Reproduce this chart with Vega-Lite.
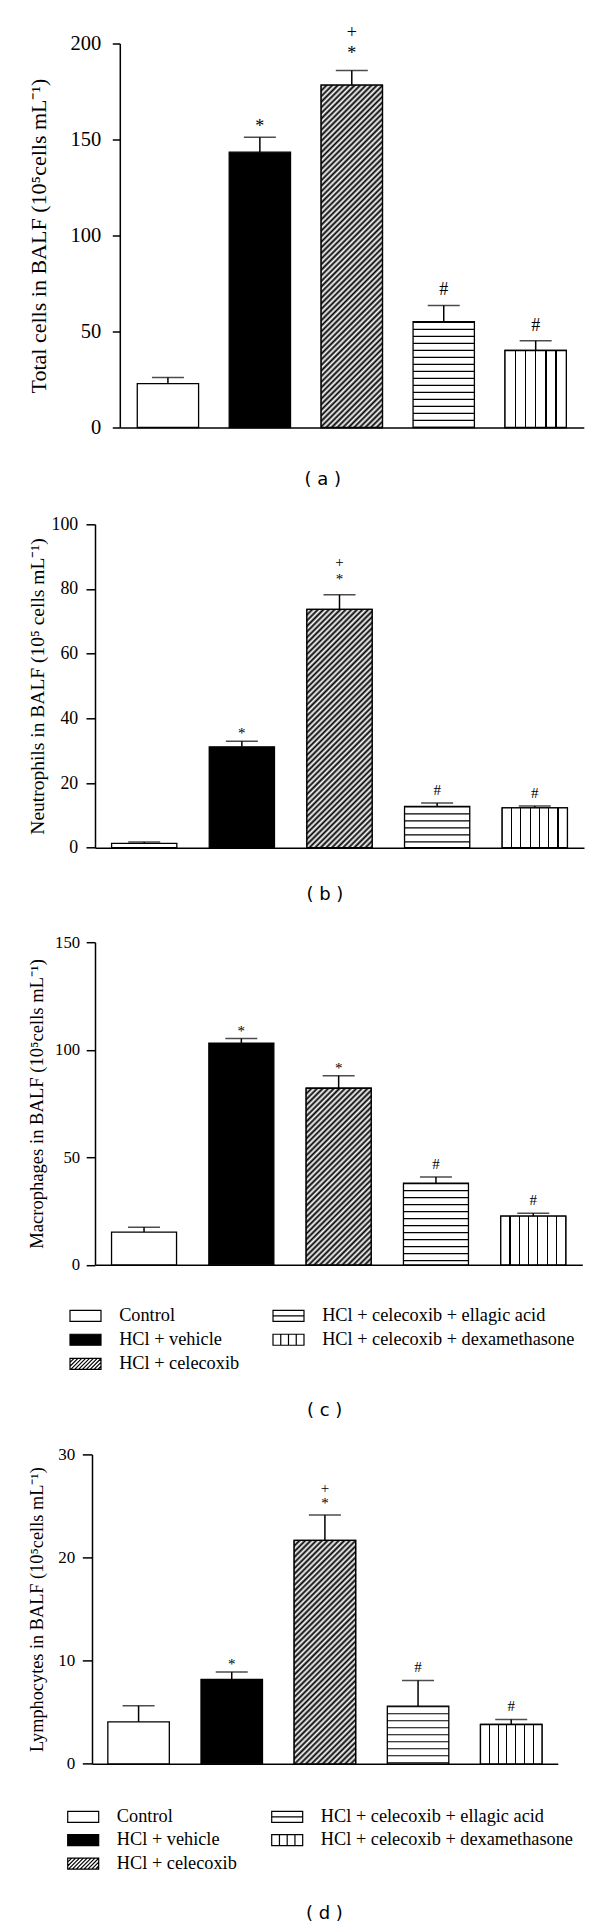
{
"$schema": "https://vega.github.io/schema/vega-lite/v6.json",
"padding": {"left": 27, "top": 23.5, "right": 5, "bottom": 0},
"config": {
 "view": {"stroke": null},
 "axis": {"grid": false, "domainColor": "#000", "tickColor": "#000", "labelColor": "#000", "titleColor": "#000", "labelFont": "Liberation Serif", "titleFont": "Liberation Serif", "titleFontWeight": "normal", "domainWidth": 1.5, "tickWidth": 1.5},
 "text": {"font": "Liberation Serif", "color": "#000", "fill": "#000", "baseline": "middle"},
 "title": {"font": "DejaVu Sans", "fontSize": 18, "fontWeight": "normal", "color": "#000", "orient": "bottom", "anchor": "middle", "frame": "group"},
 "legend": {"labelFont": "Liberation Serif", "labelColor": "#000", "labelLimit": 400, "symbolStrokeColor": "#000", "symbolStrokeWidth": 1.2, "padding": 0, "symbolOpacity": 1, "title": null}
},
"resolve": {"scale": {"fill": "independent", "shape": "independent"}, "legend": {"fill": "independent", "shape": "independent"}},
"datasets": {
 "a": [
  {"group": "Control", "value": 22.8, "err": 26.1, "sig": ""},
  {"group": "HCl + vehicle", "value": 143.4, "err": 151.2, "sig": "*"},
  {"group": "HCl + celecoxib", "value": 178.3, "err": 185.9, "sig": "+*"},
  {"group": "HCl + celecoxib + ellagic acid", "value": 55.1, "err": 63.6, "sig": "#"},
  {"group": "HCl + celecoxib + dexamethasone", "value": 40.1, "err": 45.2, "sig": "#"}
 ],
 "b": [
  {"group": "Control", "value": 1.34, "err": 1.75, "sig": ""},
  {"group": "HCl + vehicle", "value": 31.2, "err": 32.9, "sig": "*"},
  {"group": "HCl + celecoxib", "value": 73.7, "err": 78.2, "sig": "+*"},
  {"group": "HCl + celecoxib + ellagic acid", "value": 12.8, "err": 13.8, "sig": "#"},
  {"group": "HCl + celecoxib + dexamethasone", "value": 12.3, "err": 12.9, "sig": "#"}
 ],
 "c": [
  {"group": "Control", "value": 15.2, "err": 17.5, "sig": ""},
  {"group": "HCl + vehicle", "value": 103.1, "err": 105.2, "sig": "*"},
  {"group": "HCl + celecoxib", "value": 82.1, "err": 87.9, "sig": "*"},
  {"group": "HCl + celecoxib + ellagic acid", "value": 38.0, "err": 40.8, "sig": "#"},
  {"group": "HCl + celecoxib + dexamethasone", "value": 22.6, "err": 24.0, "sig": "#"}
 ],
 "d": [
  {"group": "Control", "value": 4.07, "err": 5.63, "sig": ""},
  {"group": "HCl + vehicle", "value": 8.18, "err": 8.89, "sig": "*"},
  {"group": "HCl + celecoxib", "value": 21.66, "err": 24.12, "sig": "+*"},
  {"group": "HCl + celecoxib + ellagic acid", "value": 5.59, "err": 8.08, "sig": "#"},
  {"group": "HCl + celecoxib + dexamethasone", "value": 3.81, "err": 4.30, "sig": "#"}
 ]
},
"concat": [
 {"concat": [
  {
   "data": {"name": "a"},
   "width": 488.8, "height": 384,
   "title": {"text": "( a )", "offset": 12.8, "dx": -16.6},
   "encoding": {"x": {"field": "group", "type": "nominal", "scale": {"domain": ["Control", "HCl + vehicle", "HCl + celecoxib", "HCl + celecoxib + ellagic acid", "HCl + celecoxib + dexamethasone"], "range": [24.8, 488.8], "paddingInner": 0.333, "paddingOuter": 0.19}, "axis": {"title": null, "labels": false, "ticks": false}}},
   "layer": [
    {"mark": {"type": "bar", "stroke": "#000", "strokeWidth": 1.3},
     "encoding": {"y": {"field": "value", "type": "quantitative", "scale": {"domain": [0, 200], "nice": false}, "axis": {"title": "Total cells in BALF (10⁵cells mL⁻¹)", "values": [0, 50, 100, 150, 200], "offset": -24.8, "labelFontSize": 20.5, "titleFontSize": 22, "tickSize": 7.5, "labelPadding": 11.5, "titlePadding": 20}},
      "fill": {"condition": {"test": "datum.group === 'HCl + vehicle'", "value": "#000"}, "value": "#fff"}}},
    {"transform": [{"filter": "datum.group === 'HCl + celecoxib'"}],
     "mark": {"type": "bar", "stroke": "#000", "strokeWidth": 1.3, "fill": {"gradient": "linear", "x1": 0, "y1": 0, "x2": 0.213, "y2": 1.1889, "stops": [
{"offset":0,"color":"#000"},{"offset":0.007,"color":"#fff"},{"offset":0.013,"color":"#000"},{"offset":0.02,"color":"#fff"},{"offset":0.027,"color":"#000"},{"offset":0.033,"color":"#fff"},{"offset":0.04,"color":"#000"},{"offset":0.047,"color":"#fff"},{"offset":0.053,"color":"#000"},{"offset":0.06,"color":"#fff"},{"offset":0.067,"color":"#000"},{"offset":0.073,"color":"#fff"},{"offset":0.08,"color":"#000"},{"offset":0.087,"color":"#fff"},{"offset":0.093,"color":"#000"},{"offset":0.1,"color":"#fff"},{"offset":0.107,"color":"#000"},{"offset":0.113,"color":"#fff"},{"offset":0.12,"color":"#000"},{"offset":0.127,"color":"#fff"},{"offset":0.133,"color":"#000"},{"offset":0.14,"color":"#fff"},{"offset":0.147,"color":"#000"},{"offset":0.153,"color":"#fff"},{"offset":0.16,"color":"#000"},{"offset":0.167,"color":"#fff"},{"offset":0.173,"color":"#000"},{"offset":0.18,"color":"#fff"},{"offset":0.187,"color":"#000"},{"offset":0.193,"color":"#fff"},
{"offset":0.2,"color":"#000"},{"offset":0.207,"color":"#fff"},{"offset":0.213,"color":"#000"},{"offset":0.22,"color":"#fff"},{"offset":0.227,"color":"#000"},{"offset":0.233,"color":"#fff"},{"offset":0.24,"color":"#000"},{"offset":0.247,"color":"#fff"},{"offset":0.253,"color":"#000"},{"offset":0.26,"color":"#fff"},{"offset":0.267,"color":"#000"},{"offset":0.273,"color":"#fff"},{"offset":0.28,"color":"#000"},{"offset":0.287,"color":"#fff"},{"offset":0.293,"color":"#000"},{"offset":0.3,"color":"#fff"},{"offset":0.307,"color":"#000"},{"offset":0.313,"color":"#fff"},{"offset":0.32,"color":"#000"},{"offset":0.327,"color":"#fff"},{"offset":0.333,"color":"#000"},{"offset":0.34,"color":"#fff"},{"offset":0.347,"color":"#000"},{"offset":0.353,"color":"#fff"},{"offset":0.36,"color":"#000"},{"offset":0.367,"color":"#fff"},{"offset":0.373,"color":"#000"},{"offset":0.38,"color":"#fff"},{"offset":0.387,"color":"#000"},{"offset":0.393,"color":"#fff"},
{"offset":0.4,"color":"#000"},{"offset":0.407,"color":"#fff"},{"offset":0.413,"color":"#000"},{"offset":0.42,"color":"#fff"},{"offset":0.427,"color":"#000"},{"offset":0.433,"color":"#fff"},{"offset":0.44,"color":"#000"},{"offset":0.447,"color":"#fff"},{"offset":0.453,"color":"#000"},{"offset":0.46,"color":"#fff"},{"offset":0.467,"color":"#000"},{"offset":0.473,"color":"#fff"},{"offset":0.48,"color":"#000"},{"offset":0.487,"color":"#fff"},{"offset":0.493,"color":"#000"},{"offset":0.5,"color":"#fff"},{"offset":0.507,"color":"#000"},{"offset":0.513,"color":"#fff"},{"offset":0.52,"color":"#000"},{"offset":0.527,"color":"#fff"},{"offset":0.533,"color":"#000"},{"offset":0.54,"color":"#fff"},{"offset":0.547,"color":"#000"},{"offset":0.553,"color":"#fff"},{"offset":0.56,"color":"#000"},{"offset":0.567,"color":"#fff"},{"offset":0.573,"color":"#000"},{"offset":0.58,"color":"#fff"},{"offset":0.587,"color":"#000"},{"offset":0.593,"color":"#fff"},
{"offset":0.6,"color":"#000"},{"offset":0.607,"color":"#fff"},{"offset":0.613,"color":"#000"},{"offset":0.62,"color":"#fff"},{"offset":0.627,"color":"#000"},{"offset":0.633,"color":"#fff"},{"offset":0.64,"color":"#000"},{"offset":0.647,"color":"#fff"},{"offset":0.653,"color":"#000"},{"offset":0.66,"color":"#fff"},{"offset":0.667,"color":"#000"},{"offset":0.673,"color":"#fff"},{"offset":0.68,"color":"#000"},{"offset":0.687,"color":"#fff"},{"offset":0.693,"color":"#000"},{"offset":0.7,"color":"#fff"},{"offset":0.707,"color":"#000"},{"offset":0.713,"color":"#fff"},{"offset":0.72,"color":"#000"},{"offset":0.727,"color":"#fff"},{"offset":0.733,"color":"#000"},{"offset":0.74,"color":"#fff"},{"offset":0.747,"color":"#000"},{"offset":0.753,"color":"#fff"},{"offset":0.76,"color":"#000"},{"offset":0.767,"color":"#fff"},{"offset":0.773,"color":"#000"},{"offset":0.78,"color":"#fff"},{"offset":0.787,"color":"#000"},{"offset":0.793,"color":"#fff"},
{"offset":0.8,"color":"#000"},{"offset":0.807,"color":"#fff"},{"offset":0.813,"color":"#000"},{"offset":0.82,"color":"#fff"},{"offset":0.827,"color":"#000"},{"offset":0.833,"color":"#fff"},{"offset":0.84,"color":"#000"},{"offset":0.847,"color":"#fff"},{"offset":0.853,"color":"#000"},{"offset":0.86,"color":"#fff"},{"offset":0.867,"color":"#000"},{"offset":0.873,"color":"#fff"},{"offset":0.88,"color":"#000"},{"offset":0.887,"color":"#fff"},{"offset":0.893,"color":"#000"},{"offset":0.9,"color":"#fff"},{"offset":0.907,"color":"#000"},{"offset":0.913,"color":"#fff"},{"offset":0.92,"color":"#000"},{"offset":0.927,"color":"#fff"},{"offset":0.933,"color":"#000"},{"offset":0.94,"color":"#fff"},{"offset":0.947,"color":"#000"},{"offset":0.953,"color":"#fff"},{"offset":0.96,"color":"#000"},{"offset":0.967,"color":"#fff"},{"offset":0.973,"color":"#000"},{"offset":0.98,"color":"#fff"},{"offset":0.987,"color":"#000"},{"offset":0.993,"color":"#fff"},{"offset":1,"color":"#000"}]}},
     "encoding": {"y": {"field": "value", "type": "quantitative"}}},
    {"transform": [{"filter": "datum.group === 'HCl + celecoxib + dexamethasone'"}],
     "mark": {"type": "bar", "stroke": "#000", "strokeWidth": 1.3, "fill": {"gradient": "linear", "x1": 0, "y1": 0, "x2": 1, "y2": 0, "stops": [{"offset":0,"color":"#fff"},{"offset":0.157,"color":"#fff"},{"offset":0.157,"color":"#000"},{"offset":0.177,"color":"#000"},{"offset":0.177,"color":"#fff"},{"offset":0.323,"color":"#fff"},{"offset":0.323,"color":"#000"},{"offset":0.343,"color":"#000"},{"offset":0.343,"color":"#fff"},{"offset":0.49,"color":"#fff"},{"offset":0.49,"color":"#000"},{"offset":0.51,"color":"#000"},{"offset":0.51,"color":"#fff"},{"offset":0.657,"color":"#fff"},{"offset":0.657,"color":"#000"},{"offset":0.677,"color":"#000"},{"offset":0.677,"color":"#fff"},{"offset":0.823,"color":"#fff"},{"offset":0.823,"color":"#000"},{"offset":0.843,"color":"#000"},{"offset":0.843,"color":"#fff"},{"offset":1,"color":"#fff"}]}},
     "encoding": {"y": {"field": "value", "type": "quantitative"}}},
    {"transform": [{"filter": "datum.group === 'HCl + celecoxib + ellagic acid'"}],
     "mark": {"type": "rule", "stroke": "#000", "strokeWidth": 61.3, "strokeDash": [1.2, 5.8], "strokeCap": "butt"},
     "encoding": {"y": {"field": "value", "type": "quantitative"}, "y2": {"datum": 0}}},
    {"mark": {"type": "rule", "stroke": "#000", "strokeWidth": 1.5},
     "encoding": {"y": {"field": "value", "type": "quantitative"}, "y2": {"field": "err"}}},
    {"mark": {"type": "tick", "color": "#000", "size": 32, "thickness": 1.5},
     "encoding": {"y": {"field": "err", "type": "quantitative"}}},
    {"transform": [{"filter": "datum.sig === '*'"}], "mark": {"type": "text", "text": "*", "fontSize": 18, "dy": -10, "fill": "#000"}, "encoding": {"y": {"field": "err", "type": "quantitative"}}},
    {"transform": [{"filter": "datum.sig === '+*'"}], "mark": {"type": "text", "text": "*", "fontSize": 18, "dy": -16.5, "fill": "#000"}, "encoding": {"y": {"field": "err", "type": "quantitative"}}},
    {"transform": [{"filter": "datum.sig === '+*'"}], "mark": {"type": "text", "text": "+", "fontSize": 18, "dy": -37.5, "fill": "#000"}, "encoding": {"y": {"field": "err", "type": "quantitative"}}},
    {"transform": [{"filter": "datum.sig === '#'"}], "mark": {"type": "text", "text": "#", "fontSize": 18, "dy": -15, "fill": "#000"}, "encoding": {"y": {"field": "err", "type": "quantitative"}}}
   ]
  },
  {
   "data": {"name": "b"},
   "width": 489, "height": 323.4,
   "title": {"text": "( b )", "offset": 5.2, "dx": -14.6},
   "encoding": {"x": {"field": "group", "type": "nominal", "scale": {"domain": ["Control", "HCl + vehicle", "HCl + celecoxib", "HCl + celecoxib + ellagic acid", "HCl + celecoxib + dexamethasone"], "paddingInner": 0.332, "paddingOuter": 0.17}, "axis": {"title": null, "labels": false, "ticks": false}}},
   "layer": [
    {"mark": {"type": "bar", "stroke": "#000", "strokeWidth": 1.3},
     "encoding": {"y": {"field": "value", "type": "quantitative", "scale": {"domain": [0, 100], "nice": false}, "axis": {"title": "Neutrophils in BALF (10⁵ cells mL⁻¹)", "values": [0, 20, 40, 60, 80, 100], "labelFontSize": 17.8, "titleFontSize": 19.5, "tickSize": 9, "labelPadding": 8.3, "titlePadding": 3.5}},
      "fill": {"condition": {"test": "datum.group === 'HCl + vehicle'", "value": "#000"}, "value": "#fff"}}},
    {"transform": [{"filter": "datum.group === 'HCl + celecoxib'"}],
     "mark": {"type": "bar", "stroke": "#000", "strokeWidth": 1.3, "fill": {"gradient": "linear", "x1": 0, "y1": 0, "x2": 0.4488, "y2": 1.6396, "stops": [
{"offset":0,"color":"#000"},{"offset":0.007,"color":"#fff"},{"offset":0.013,"color":"#000"},{"offset":0.02,"color":"#fff"},{"offset":0.027,"color":"#000"},{"offset":0.033,"color":"#fff"},{"offset":0.04,"color":"#000"},{"offset":0.047,"color":"#fff"},{"offset":0.053,"color":"#000"},{"offset":0.06,"color":"#fff"},{"offset":0.067,"color":"#000"},{"offset":0.073,"color":"#fff"},{"offset":0.08,"color":"#000"},{"offset":0.087,"color":"#fff"},{"offset":0.093,"color":"#000"},{"offset":0.1,"color":"#fff"},{"offset":0.107,"color":"#000"},{"offset":0.113,"color":"#fff"},{"offset":0.12,"color":"#000"},{"offset":0.127,"color":"#fff"},{"offset":0.133,"color":"#000"},{"offset":0.14,"color":"#fff"},{"offset":0.147,"color":"#000"},{"offset":0.153,"color":"#fff"},{"offset":0.16,"color":"#000"},{"offset":0.167,"color":"#fff"},{"offset":0.173,"color":"#000"},{"offset":0.18,"color":"#fff"},{"offset":0.187,"color":"#000"},{"offset":0.193,"color":"#fff"},
{"offset":0.2,"color":"#000"},{"offset":0.207,"color":"#fff"},{"offset":0.213,"color":"#000"},{"offset":0.22,"color":"#fff"},{"offset":0.227,"color":"#000"},{"offset":0.233,"color":"#fff"},{"offset":0.24,"color":"#000"},{"offset":0.247,"color":"#fff"},{"offset":0.253,"color":"#000"},{"offset":0.26,"color":"#fff"},{"offset":0.267,"color":"#000"},{"offset":0.273,"color":"#fff"},{"offset":0.28,"color":"#000"},{"offset":0.287,"color":"#fff"},{"offset":0.293,"color":"#000"},{"offset":0.3,"color":"#fff"},{"offset":0.307,"color":"#000"},{"offset":0.313,"color":"#fff"},{"offset":0.32,"color":"#000"},{"offset":0.327,"color":"#fff"},{"offset":0.333,"color":"#000"},{"offset":0.34,"color":"#fff"},{"offset":0.347,"color":"#000"},{"offset":0.353,"color":"#fff"},{"offset":0.36,"color":"#000"},{"offset":0.367,"color":"#fff"},{"offset":0.373,"color":"#000"},{"offset":0.38,"color":"#fff"},{"offset":0.387,"color":"#000"},{"offset":0.393,"color":"#fff"},
{"offset":0.4,"color":"#000"},{"offset":0.407,"color":"#fff"},{"offset":0.413,"color":"#000"},{"offset":0.42,"color":"#fff"},{"offset":0.427,"color":"#000"},{"offset":0.433,"color":"#fff"},{"offset":0.44,"color":"#000"},{"offset":0.447,"color":"#fff"},{"offset":0.453,"color":"#000"},{"offset":0.46,"color":"#fff"},{"offset":0.467,"color":"#000"},{"offset":0.473,"color":"#fff"},{"offset":0.48,"color":"#000"},{"offset":0.487,"color":"#fff"},{"offset":0.493,"color":"#000"},{"offset":0.5,"color":"#fff"},{"offset":0.507,"color":"#000"},{"offset":0.513,"color":"#fff"},{"offset":0.52,"color":"#000"},{"offset":0.527,"color":"#fff"},{"offset":0.533,"color":"#000"},{"offset":0.54,"color":"#fff"},{"offset":0.547,"color":"#000"},{"offset":0.553,"color":"#fff"},{"offset":0.56,"color":"#000"},{"offset":0.567,"color":"#fff"},{"offset":0.573,"color":"#000"},{"offset":0.58,"color":"#fff"},{"offset":0.587,"color":"#000"},{"offset":0.593,"color":"#fff"},
{"offset":0.6,"color":"#000"},{"offset":0.607,"color":"#fff"},{"offset":0.613,"color":"#000"},{"offset":0.62,"color":"#fff"},{"offset":0.627,"color":"#000"},{"offset":0.633,"color":"#fff"},{"offset":0.64,"color":"#000"},{"offset":0.647,"color":"#fff"},{"offset":0.653,"color":"#000"},{"offset":0.66,"color":"#fff"},{"offset":0.667,"color":"#000"},{"offset":0.673,"color":"#fff"},{"offset":0.68,"color":"#000"},{"offset":0.687,"color":"#fff"},{"offset":0.693,"color":"#000"},{"offset":0.7,"color":"#fff"},{"offset":0.707,"color":"#000"},{"offset":0.713,"color":"#fff"},{"offset":0.72,"color":"#000"},{"offset":0.727,"color":"#fff"},{"offset":0.733,"color":"#000"}]}},
     "encoding": {"y": {"field": "value", "type": "quantitative"}}},
    {"transform": [{"filter": "datum.group === 'HCl + celecoxib + dexamethasone'"}],
     "mark": {"type": "bar", "stroke": "#000", "strokeWidth": 1.3, "fill": {"gradient": "linear", "x1": 0, "y1": 0, "x2": 1, "y2": 0, "stops": [{"offset":0,"color":"#fff"},{"offset":0.134,"color":"#fff"},{"offset":0.134,"color":"#000"},{"offset":0.152,"color":"#000"},{"offset":0.152,"color":"#fff"},{"offset":0.277,"color":"#fff"},{"offset":0.277,"color":"#000"},{"offset":0.295,"color":"#000"},{"offset":0.295,"color":"#fff"},{"offset":0.42,"color":"#fff"},{"offset":0.42,"color":"#000"},{"offset":0.438,"color":"#000"},{"offset":0.438,"color":"#fff"},{"offset":0.562,"color":"#fff"},{"offset":0.562,"color":"#000"},{"offset":0.58,"color":"#000"},{"offset":0.58,"color":"#fff"},{"offset":0.705,"color":"#fff"},{"offset":0.705,"color":"#000"},{"offset":0.723,"color":"#000"},{"offset":0.723,"color":"#fff"},{"offset":0.848,"color":"#fff"},{"offset":0.848,"color":"#000"},{"offset":0.866,"color":"#000"},{"offset":0.866,"color":"#fff"},{"offset":1,"color":"#fff"}]}},
     "encoding": {"y": {"field": "value", "type": "quantitative"}}},
    {"transform": [{"filter": "datum.group === 'HCl + celecoxib + ellagic acid'"}],
     "mark": {"type": "rule", "stroke": "#000", "strokeWidth": 65.2, "strokeDash": [1.2, 5.8], "strokeCap": "butt"},
     "encoding": {"y": {"field": "value", "type": "quantitative"}, "y2": {"datum": 0}}},
    {"mark": {"type": "rule", "stroke": "#000", "strokeWidth": 1.5},
     "encoding": {"y": {"field": "value", "type": "quantitative"}, "y2": {"field": "err"}}},
    {"mark": {"type": "tick", "color": "#000", "size": 32, "thickness": 1.5},
     "encoding": {"y": {"field": "err", "type": "quantitative"}}},
    {"transform": [{"filter": "datum.sig === '*'"}], "mark": {"type": "text", "text": "*", "fontSize": 15, "dy": -8, "fill": "#000"}, "encoding": {"y": {"field": "err", "type": "quantitative"}}},
    {"transform": [{"filter": "datum.sig === '+*'"}], "mark": {"type": "text", "text": "*", "fontSize": 15, "dy": -16, "fill": "#000"}, "encoding": {"y": {"field": "err", "type": "quantitative"}}},
    {"transform": [{"filter": "datum.sig === '+*'"}], "mark": {"type": "text", "text": "+", "fontSize": 15, "dy": -33, "fill": "#000"}, "encoding": {"y": {"field": "err", "type": "quantitative"}}},
    {"transform": [{"filter": "datum.sig === '#'"}], "mark": {"type": "text", "text": "#", "fontSize": 15, "dy": -13, "fill": "#000"}, "encoding": {"y": {"field": "err", "type": "quantitative"}}}
   ]
  }
 ], "columns": 1, "align": "none", "spacing": 25.8,
 "resolve": {"scale": {"fill": "independent", "shape": "independent"}, "legend": {"fill": "independent", "shape": "independent"}}},
 {"concat": [
  {
   "data": {"name": "c"},
   "width": 487.3, "height": 322.6,
   "title": {"text": "( c )", "offset": 29, "dx": -14},
   "encoding": {"x": {"field": "group", "type": "nominal", "scale": {"domain": ["Control", "HCl + vehicle", "HCl + celecoxib", "HCl + celecoxib + ellagic acid", "HCl + celecoxib + dexamethasone"], "paddingInner": 0.332, "paddingOuter": 0.17}, "axis": {"title": null, "labels": false, "ticks": false}}},
   "layer": [
    {"mark": {"type": "bar", "stroke": "#000", "strokeWidth": 1.3},
     "encoding": {"y": {"field": "value", "type": "quantitative", "scale": {"domain": [0, 150], "nice": false}, "axis": {"title": "Macrophages in BALF (10⁵cells mL⁻¹)", "values": [0, 50, 100, 150], "labelFontSize": 16.7, "titleFontSize": 18.6, "tickSize": 8.8, "labelPadding": 6.6, "titlePadding": 8}},
      "fill": {"condition": {"test": "datum.group === 'HCl + vehicle'", "value": "#000"}, "value": "#fff"}}},
    {"transform": [{"filter": "datum.group === 'HCl + celecoxib'"}],
     "mark": {"type": "bar", "stroke": "#000", "strokeWidth": 1.3, "fill": {"gradient": "linear", "x1": 0, "y1": 0, "x2": 0.7708, "y2": 2.0951, "stops": [
{"offset":0,"color":"#000"},{"offset":0.007,"color":"#fff"},{"offset":0.013,"color":"#000"},{"offset":0.02,"color":"#fff"},{"offset":0.027,"color":"#000"},{"offset":0.033,"color":"#fff"},{"offset":0.04,"color":"#000"},{"offset":0.047,"color":"#fff"},{"offset":0.053,"color":"#000"},{"offset":0.06,"color":"#fff"},{"offset":0.067,"color":"#000"},{"offset":0.073,"color":"#fff"},{"offset":0.08,"color":"#000"},{"offset":0.087,"color":"#fff"},{"offset":0.093,"color":"#000"},{"offset":0.1,"color":"#fff"},{"offset":0.107,"color":"#000"},{"offset":0.113,"color":"#fff"},{"offset":0.12,"color":"#000"},{"offset":0.127,"color":"#fff"},{"offset":0.133,"color":"#000"},{"offset":0.14,"color":"#fff"},{"offset":0.147,"color":"#000"},{"offset":0.153,"color":"#fff"},{"offset":0.16,"color":"#000"},{"offset":0.167,"color":"#fff"},{"offset":0.173,"color":"#000"},{"offset":0.18,"color":"#fff"},{"offset":0.187,"color":"#000"},{"offset":0.193,"color":"#fff"},
{"offset":0.2,"color":"#000"},{"offset":0.207,"color":"#fff"},{"offset":0.213,"color":"#000"},{"offset":0.22,"color":"#fff"},{"offset":0.227,"color":"#000"},{"offset":0.233,"color":"#fff"},{"offset":0.24,"color":"#000"},{"offset":0.247,"color":"#fff"},{"offset":0.253,"color":"#000"},{"offset":0.26,"color":"#fff"},{"offset":0.267,"color":"#000"},{"offset":0.273,"color":"#fff"},{"offset":0.28,"color":"#000"},{"offset":0.287,"color":"#fff"},{"offset":0.293,"color":"#000"},{"offset":0.3,"color":"#fff"},{"offset":0.307,"color":"#000"},{"offset":0.313,"color":"#fff"},{"offset":0.32,"color":"#000"},{"offset":0.327,"color":"#fff"},{"offset":0.333,"color":"#000"},{"offset":0.34,"color":"#fff"},{"offset":0.347,"color":"#000"},{"offset":0.353,"color":"#fff"},{"offset":0.36,"color":"#000"},{"offset":0.367,"color":"#fff"},{"offset":0.373,"color":"#000"},{"offset":0.38,"color":"#fff"},{"offset":0.387,"color":"#000"},{"offset":0.393,"color":"#fff"},
{"offset":0.4,"color":"#000"},{"offset":0.407,"color":"#fff"},{"offset":0.413,"color":"#000"},{"offset":0.42,"color":"#fff"},{"offset":0.427,"color":"#000"},{"offset":0.433,"color":"#fff"},{"offset":0.44,"color":"#000"},{"offset":0.447,"color":"#fff"},{"offset":0.453,"color":"#000"},{"offset":0.46,"color":"#fff"},{"offset":0.467,"color":"#000"},{"offset":0.473,"color":"#fff"},{"offset":0.48,"color":"#000"},{"offset":0.487,"color":"#fff"},{"offset":0.493,"color":"#000"},{"offset":0.5,"color":"#fff"},{"offset":0.507,"color":"#000"},{"offset":0.513,"color":"#fff"},{"offset":0.52,"color":"#000"},{"offset":0.527,"color":"#fff"},{"offset":0.533,"color":"#000"},{"offset":0.54,"color":"#fff"},{"offset":0.547,"color":"#000"},{"offset":0.553,"color":"#fff"},{"offset":0.56,"color":"#000"},{"offset":0.567,"color":"#fff"},{"offset":0.573,"color":"#000"},{"offset":0.58,"color":"#fff"},{"offset":0.587,"color":"#000"}]}},
     "encoding": {"y": {"field": "value", "type": "quantitative"}}},
    {"transform": [{"filter": "datum.group === 'HCl + celecoxib + dexamethasone'"}],
     "mark": {"type": "bar", "stroke": "#000", "strokeWidth": 1.3, "fill": {"gradient": "linear", "x1": 0, "y1": 0, "x2": 1, "y2": 0, "stops": [{"offset":0,"color":"#fff"},{"offset":0.134,"color":"#fff"},{"offset":0.134,"color":"#000"},{"offset":0.152,"color":"#000"},{"offset":0.152,"color":"#fff"},{"offset":0.277,"color":"#fff"},{"offset":0.277,"color":"#000"},{"offset":0.295,"color":"#000"},{"offset":0.295,"color":"#fff"},{"offset":0.42,"color":"#fff"},{"offset":0.42,"color":"#000"},{"offset":0.438,"color":"#000"},{"offset":0.438,"color":"#fff"},{"offset":0.562,"color":"#fff"},{"offset":0.562,"color":"#000"},{"offset":0.58,"color":"#000"},{"offset":0.58,"color":"#fff"},{"offset":0.705,"color":"#fff"},{"offset":0.705,"color":"#000"},{"offset":0.723,"color":"#000"},{"offset":0.723,"color":"#fff"},{"offset":0.848,"color":"#fff"},{"offset":0.848,"color":"#000"},{"offset":0.866,"color":"#000"},{"offset":0.866,"color":"#fff"},{"offset":1,"color":"#fff"}]}},
     "encoding": {"y": {"field": "value", "type": "quantitative"}}},
    {"transform": [{"filter": "datum.group === 'HCl + celecoxib + ellagic acid'"}],
     "mark": {"type": "rule", "stroke": "#000", "strokeWidth": 65, "strokeDash": [1.2, 5.8], "strokeCap": "butt"},
     "encoding": {"y": {"field": "value", "type": "quantitative"}, "y2": {"datum": 0}}},
    {"mark": {"type": "rule", "stroke": "#000", "strokeWidth": 1.5},
     "encoding": {"y": {"field": "value", "type": "quantitative"}, "y2": {"field": "err"}}},
    {"mark": {"type": "tick", "color": "#000", "size": 32, "thickness": 1.5},
     "encoding": {"y": {"field": "err", "type": "quantitative"}}},
    {"transform": [{"filter": "datum.sig === '*'"}], "mark": {"type": "text", "text": "*", "fontSize": 15, "dy": -8, "fill": "#000"}, "encoding": {"y": {"field": "err", "type": "quantitative"}}},
    {"transform": [{"filter": "datum.sig === '#'"}], "mark": {"type": "text", "text": "#", "fontSize": 15, "dy": -13, "fill": "#000"}, "encoding": {"y": {"field": "err", "type": "quantitative"}}},
    {"mark": {"type": "point", "filled": true, "opacity": 0, "stroke": "#000", "strokeWidth": 1.2},
     "encoding": {"y": {"field": "value", "type": "quantitative"},
      "fill": {"field": "group", "type": "nominal", "scale": {"domain": ["Control", "HCl + vehicle", "HCl + celecoxib", "HCl + celecoxib + ellagic acid", "HCl + celecoxib + dexamethasone"], "range": ["#fff", "#000", "#fff", "#fff", "#fff"]},
       "legend": {"orient": "none", "legendX": -18.65, "legendY": 364.3, "columns": 2, "columnPadding": 31, "rowPadding": 5.1, "symbolSize": 240, "labelFontSize": 18.3, "labelOffset": 24.5, "symbolOpacity": 1, "encode": {"symbols": {"update": {"stroke": {"value": "#000"}, "strokeWidth": {"value": 1.2}, "opacity": {"value": 1}}}}}},
      "shape": {"field": "group", "type": "nominal", "scale": {"domain": ["Control", "HCl + vehicle", "HCl + celecoxib", "HCl + celecoxib + ellagic acid", "HCl + celecoxib + dexamethasone"], "range": ["M-2,-0.71H2V0.71H-2Z", "M-2,-0.71H2V0.71H-2Z", "M-2,-0.71H2V0.71H-2ZM-2,-0.19L-1.48,-0.71M-2,0.31L-0.98,-0.71M-1.9,0.71L-0.48,-0.71M-1.4,0.71L0.02,-0.71M-0.9,0.71L0.52,-0.71M-0.4,0.71L1.02,-0.71M0.1,0.71L1.52,-0.71M0.6,0.71L2,-0.69M1.1,0.71L2,-0.19M1.6,0.71L2,0.31", "M-2,-0.71H2V0.71H-2ZM-2,0H2", "M-2,-0.71H2V0.71H-2ZM-1,-0.71V0.71M0,-0.71V0.71M1,-0.71V0.71"]},
       "legend": {"orient": "none", "legendX": -18.65, "legendY": 364.3, "columns": 2, "columnPadding": 31, "rowPadding": 5.1, "symbolSize": 240, "labelFontSize": 18.3, "labelOffset": 24.5, "symbolOpacity": 1, "encode": {"symbols": {"update": {"stroke": {"value": "#000"}, "strokeWidth": {"value": 1.2}, "opacity": {"value": 1}}}}}}}}
   ]
  },
  {
   "data": {"name": "d"},
   "width": 462.8, "height": 309.4,
   "title": {"text": "( d )", "offset": 33, "dx": -2},
   "encoding": {"x": {"field": "group", "type": "nominal", "scale": {"domain": ["Control", "HCl + vehicle", "HCl + celecoxib", "HCl + celecoxib + ellagic acid", "HCl + celecoxib + dexamethasone"], "range": [-3, 462.8], "paddingInner": 0.34, "paddingOuter": 0.17}, "axis": {"title": null, "labels": false, "ticks": false}}},
   "layer": [
    {"mark": {"type": "bar", "stroke": "#000", "strokeWidth": 1.3},
     "encoding": {"y": {"field": "value", "type": "quantitative", "scale": {"domain": [0, 30], "nice": false}, "axis": {"title": "Lymphocytes in BALF (10⁵cells mL⁻¹)", "values": [0, 10, 20, 30], "offset": 3, "labelFontSize": 17, "titleFontSize": 18.3, "tickSize": 9.7, "labelPadding": 7.5, "titlePadding": 11.5}},
      "fill": {"condition": {"test": "datum.group === 'HCl + vehicle'", "value": "#000"}, "value": "#fff"}}},
    {"transform": [{"filter": "datum.group === 'HCl + celecoxib'"}],
     "mark": {"type": "bar", "stroke": "#000", "strokeWidth": 1.3, "fill": {"gradient": "linear", "x1": 0, "y1": 0, "x2": 0.4812, "y2": 1.7476, "stops": [
{"offset":0,"color":"#000"},{"offset":0.007,"color":"#fff"},{"offset":0.013,"color":"#000"},{"offset":0.02,"color":"#fff"},{"offset":0.027,"color":"#000"},{"offset":0.033,"color":"#fff"},{"offset":0.04,"color":"#000"},{"offset":0.047,"color":"#fff"},{"offset":0.053,"color":"#000"},{"offset":0.06,"color":"#fff"},{"offset":0.067,"color":"#000"},{"offset":0.073,"color":"#fff"},{"offset":0.08,"color":"#000"},{"offset":0.087,"color":"#fff"},{"offset":0.093,"color":"#000"},{"offset":0.1,"color":"#fff"},{"offset":0.107,"color":"#000"},{"offset":0.113,"color":"#fff"},{"offset":0.12,"color":"#000"},{"offset":0.127,"color":"#fff"},{"offset":0.133,"color":"#000"},{"offset":0.14,"color":"#fff"},{"offset":0.147,"color":"#000"},{"offset":0.153,"color":"#fff"},{"offset":0.16,"color":"#000"},{"offset":0.167,"color":"#fff"},{"offset":0.173,"color":"#000"},{"offset":0.18,"color":"#fff"},{"offset":0.187,"color":"#000"},{"offset":0.193,"color":"#fff"},
{"offset":0.2,"color":"#000"},{"offset":0.207,"color":"#fff"},{"offset":0.213,"color":"#000"},{"offset":0.22,"color":"#fff"},{"offset":0.227,"color":"#000"},{"offset":0.233,"color":"#fff"},{"offset":0.24,"color":"#000"},{"offset":0.247,"color":"#fff"},{"offset":0.253,"color":"#000"},{"offset":0.26,"color":"#fff"},{"offset":0.267,"color":"#000"},{"offset":0.273,"color":"#fff"},{"offset":0.28,"color":"#000"},{"offset":0.287,"color":"#fff"},{"offset":0.293,"color":"#000"},{"offset":0.3,"color":"#fff"},{"offset":0.307,"color":"#000"},{"offset":0.313,"color":"#fff"},{"offset":0.32,"color":"#000"},{"offset":0.327,"color":"#fff"},{"offset":0.333,"color":"#000"},{"offset":0.34,"color":"#fff"},{"offset":0.347,"color":"#000"},{"offset":0.353,"color":"#fff"},{"offset":0.36,"color":"#000"},{"offset":0.367,"color":"#fff"},{"offset":0.373,"color":"#000"},{"offset":0.38,"color":"#fff"},{"offset":0.387,"color":"#000"},{"offset":0.393,"color":"#fff"},
{"offset":0.4,"color":"#000"},{"offset":0.407,"color":"#fff"},{"offset":0.413,"color":"#000"},{"offset":0.42,"color":"#fff"},{"offset":0.427,"color":"#000"},{"offset":0.433,"color":"#fff"},{"offset":0.44,"color":"#000"},{"offset":0.447,"color":"#fff"},{"offset":0.453,"color":"#000"},{"offset":0.46,"color":"#fff"},{"offset":0.467,"color":"#000"},{"offset":0.473,"color":"#fff"},{"offset":0.48,"color":"#000"},{"offset":0.487,"color":"#fff"},{"offset":0.493,"color":"#000"},{"offset":0.5,"color":"#fff"},{"offset":0.507,"color":"#000"},{"offset":0.513,"color":"#fff"},{"offset":0.52,"color":"#000"},{"offset":0.527,"color":"#fff"},{"offset":0.533,"color":"#000"},{"offset":0.54,"color":"#fff"},{"offset":0.547,"color":"#000"},{"offset":0.553,"color":"#fff"},{"offset":0.56,"color":"#000"},{"offset":0.567,"color":"#fff"},{"offset":0.573,"color":"#000"},{"offset":0.58,"color":"#fff"},{"offset":0.587,"color":"#000"},{"offset":0.593,"color":"#fff"},
{"offset":0.6,"color":"#000"},{"offset":0.607,"color":"#fff"},{"offset":0.613,"color":"#000"},{"offset":0.62,"color":"#fff"},{"offset":0.627,"color":"#000"},{"offset":0.633,"color":"#fff"},{"offset":0.64,"color":"#000"},{"offset":0.647,"color":"#fff"},{"offset":0.653,"color":"#000"},{"offset":0.66,"color":"#fff"},{"offset":0.667,"color":"#000"},{"offset":0.673,"color":"#fff"},{"offset":0.68,"color":"#000"},{"offset":0.687,"color":"#fff"},{"offset":0.693,"color":"#000"}]}},
     "encoding": {"y": {"field": "value", "type": "quantitative"}}},
    {"transform": [{"filter": "datum.group === 'HCl + celecoxib + dexamethasone'"}],
     "mark": {"type": "bar", "stroke": "#000", "strokeWidth": 1.3, "fill": {"gradient": "linear", "x1": 0, "y1": 0, "x2": 1, "y2": 0, "stops": [{"offset":0,"color":"#fff"},{"offset":0.134,"color":"#fff"},{"offset":0.134,"color":"#000"},{"offset":0.152,"color":"#000"},{"offset":0.152,"color":"#fff"},{"offset":0.277,"color":"#fff"},{"offset":0.277,"color":"#000"},{"offset":0.295,"color":"#000"},{"offset":0.295,"color":"#fff"},{"offset":0.42,"color":"#fff"},{"offset":0.42,"color":"#000"},{"offset":0.438,"color":"#000"},{"offset":0.438,"color":"#fff"},{"offset":0.562,"color":"#fff"},{"offset":0.562,"color":"#000"},{"offset":0.58,"color":"#000"},{"offset":0.58,"color":"#fff"},{"offset":0.705,"color":"#fff"},{"offset":0.705,"color":"#000"},{"offset":0.723,"color":"#000"},{"offset":0.723,"color":"#fff"},{"offset":0.848,"color":"#fff"},{"offset":0.848,"color":"#000"},{"offset":0.866,"color":"#000"},{"offset":0.866,"color":"#fff"},{"offset":1,"color":"#fff"}]}},
     "encoding": {"y": {"field": "value", "type": "quantitative"}}},
    {"transform": [{"filter": "datum.group === 'HCl + celecoxib + ellagic acid'"}],
     "mark": {"type": "rule", "stroke": "#000", "strokeWidth": 61.5, "strokeDash": [1.2, 5.8], "strokeCap": "butt"},
     "encoding": {"y": {"field": "value", "type": "quantitative"}, "y2": {"datum": 0}}},
    {"mark": {"type": "rule", "stroke": "#000", "strokeWidth": 1.5},
     "encoding": {"y": {"field": "value", "type": "quantitative"}, "y2": {"field": "err"}}},
    {"mark": {"type": "tick", "color": "#000", "size": 32, "thickness": 1.5},
     "encoding": {"y": {"field": "err", "type": "quantitative"}}},
    {"transform": [{"filter": "datum.sig === '*'"}], "mark": {"type": "text", "text": "*", "fontSize": 15, "dy": -8, "fill": "#000"}, "encoding": {"y": {"field": "err", "type": "quantitative"}}},
    {"transform": [{"filter": "datum.sig === '+*'"}], "mark": {"type": "text", "text": "*", "fontSize": 15, "dy": -12, "fill": "#000"}, "encoding": {"y": {"field": "err", "type": "quantitative"}}},
    {"transform": [{"filter": "datum.sig === '+*'"}], "mark": {"type": "text", "text": "+", "fontSize": 15, "dy": -27, "fill": "#000"}, "encoding": {"y": {"field": "err", "type": "quantitative"}}},
    {"transform": [{"filter": "datum.sig === '#'"}], "mark": {"type": "text", "text": "#", "fontSize": 15, "dy": -13, "fill": "#000"}, "encoding": {"y": {"field": "err", "type": "quantitative"}}},
    {"mark": {"type": "point", "filled": true, "opacity": 0, "stroke": "#000", "strokeWidth": 1.2},
     "encoding": {"y": {"field": "value", "type": "quantitative"},
      "fill": {"field": "group", "type": "nominal", "scale": {"domain": ["Control", "HCl + vehicle", "HCl + celecoxib", "HCl + celecoxib + ellagic acid", "HCl + celecoxib + dexamethasone"], "range": ["#fff", "#000", "#fff", "#fff", "#fff"]},
       "legend": {"orient": "none", "legendX": -20.95, "legendY": 353, "columns": 2, "columnPadding": 32, "rowPadding": 4.5, "symbolSize": 240, "labelFontSize": 18.3, "labelOffset": 24.5, "symbolOpacity": 1, "encode": {"symbols": {"update": {"stroke": {"value": "#000"}, "strokeWidth": {"value": 1.2}, "opacity": {"value": 1}}}}}},
      "shape": {"field": "group", "type": "nominal", "scale": {"domain": ["Control", "HCl + vehicle", "HCl + celecoxib", "HCl + celecoxib + ellagic acid", "HCl + celecoxib + dexamethasone"], "range": ["M-2,-0.71H2V0.71H-2Z", "M-2,-0.71H2V0.71H-2Z", "M-2,-0.71H2V0.71H-2ZM-2,-0.19L-1.48,-0.71M-2,0.31L-0.98,-0.71M-1.9,0.71L-0.48,-0.71M-1.4,0.71L0.02,-0.71M-0.9,0.71L0.52,-0.71M-0.4,0.71L1.02,-0.71M0.1,0.71L1.52,-0.71M0.6,0.71L2,-0.69M1.1,0.71L2,-0.19M1.6,0.71L2,0.31", "M-2,-0.71H2V0.71H-2ZM-2,0H2", "M-2,-0.71H2V0.71H-2ZM-1,-0.71V0.71M0,-0.71V0.71M1,-0.71V0.71"]},
       "legend": {"orient": "none", "legendX": -20.95, "legendY": 353, "columns": 2, "columnPadding": 32, "rowPadding": 4.5, "symbolSize": 240, "labelFontSize": 18.3, "labelOffset": 24.5, "symbolOpacity": 1, "encode": {"symbols": {"update": {"stroke": {"value": "#000"}, "strokeWidth": {"value": 1.2}, "opacity": {"value": 1}}}}}}}}
   ]
  }
 ], "columns": 1, "align": "none", "spacing": 25.2,
 "resolve": {"scale": {"fill": "independent", "shape": "independent"}, "legend": {"fill": "independent", "shape": "independent"}}}
],
"columns": 1, "align": "none", "spacing": 30.7
}
